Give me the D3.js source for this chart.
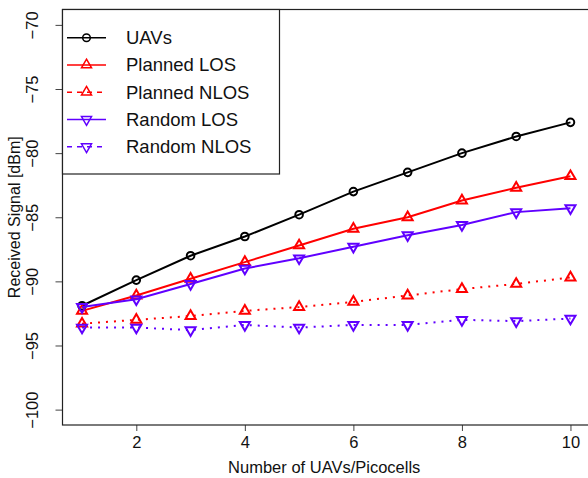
<!DOCTYPE html>
<html>
<head>
<meta charset="utf-8">
<script src="https://cdn.jsdelivr.net/npm/d3@7"></script>
<style>
  body { margin: 0; background: #fff; }
  svg { display: block; font-family: "Liberation Sans", Arial, Helvetica, sans-serif; }
</style>
</head>
<body>
<svg width="588" height="478"></svg>
<script>
const nodes = [1, 2, 3, 4, 5, 6, 7, 8, 9, 10];
const uavs        = [-91.9, -89.9, -88.0, -86.5, -84.8, -83.0, -81.5, -80.0, -78.7, -77.6];
const plannedLOS  = [-92.3, -91.1, -89.8, -88.5, -87.2, -85.9, -85.0, -83.7, -82.7, -81.8];
const plannedNLOS = [-93.3, -93.0, -92.7, -92.3, -92.0, -91.6, -91.1, -90.6, -90.2, -89.7];
const randomLOS   = [-92.0, -91.4, -90.2, -89.0, -88.2, -87.3, -86.4, -85.6, -84.6, -84.3];
const randomNLOS  = [-93.6, -93.6, -93.8, -93.4, -93.6, -93.4, -93.4, -93.0, -93.1, -92.9];
const xTicks = [2, 4, 6, 8, 10];
const yTicks = [-100, -95, -90, -85, -80, -75, -70];

const series = [
  { name: 'UAVs',         values: uavs,        color: '#000000', marker: 'circle', dotted: false },
  { name: 'Planned LOS',  values: plannedLOS,  color: '#ff0000', marker: 'up',     dotted: false },
  { name: 'Planned NLOS', values: plannedNLOS, color: '#ff0000', marker: 'up',     dotted: true },
  { name: 'Random LOS',   values: randomLOS,   color: '#6000ff', marker: 'down',   dotted: false },
  { name: 'Random NLOS',  values: randomNLOS,  color: '#6000ff', marker: 'down',   dotted: true }
];

const margin = { top: 9.5, left: 62.5 };
const plotRight = 590;
const plotBottom = 425;

const svg = d3.select('svg');

// R style 4% padding on both axes
const x = d3.scaleLinear().domain([0.64, 10.36]).range([margin.left, plotRight]);
const y = d3.scaleLinear().domain([-101.2, -68.8]).range([plotBottom, margin.top]);

// axes
const xAxis = svg.append('g')
  .attr('transform', `translate(0,${plotBottom})`)
  .call(d3.axisBottom(x).tickValues(xTicks).tickSize(6).tickPadding(5).tickFormat(d3.format('d')));
xAxis.select('.domain').remove();
xAxis.selectAll('line').attr('stroke', '#444');
xAxis.selectAll('text').attr('font-size', 16.5).attr('fill', '#111').attr('font-family', null);

const yAxis = svg.append('g')
  .attr('transform', `translate(${margin.left},0)`)
  .call(d3.axisLeft(y).tickValues(yTicks).tickSize(7).tickFormat(d3.format('d')));
yAxis.select('.domain').remove();
yAxis.selectAll('line').attr('stroke', '#444');
yAxis.selectAll('text')
  .attr('font-size', 16.5).attr('fill', '#111').attr('font-family', null)
  .attr('x', null).attr('dy', null)
  .attr('text-anchor', 'middle')
  .attr('transform', 'translate(-19,0) rotate(-90) translate(0,-6)');

// plot box
svg.append('rect')
  .attr('x', margin.left).attr('y', margin.top)
  .attr('width', plotRight - margin.left).attr('height', plotBottom - margin.top)
  .attr('fill', 'none').attr('stroke', '#222').attr('stroke-width', 1.2);

// axis titles
svg.append('text')
  .attr('x', (margin.left + plotRight) / 2 - 2).attr('y', 473)
  .attr('text-anchor', 'middle').attr('font-size', 16.5).attr('fill', '#111')
  .text('Number of UAVs/Picocells');

svg.append('text')
  .attr('transform', `translate(20,${(margin.top + plotBottom) / 2}) rotate(-90)`)
  .attr('text-anchor', 'middle').attr('font-size', 16).attr('fill', '#111')
  .text('Received Signal [dBm]');

// triangle like R pch 2 / 6, r = circumradius
function triangle(cx, cy, r, down) {
  const h = r * Math.sqrt(3) / 2;
  const s = down ? -1 : 1;
  return `M${cx},${cy - s * r}L${cx + h},${cy + s * r / 2}L${cx - h},${cy + s * r / 2}Z`;
}

function drawMarker(g, marker, cx, cy, color, sw) {
  if (marker === 'circle') {
    g.append('circle').attr('cx', cx).attr('cy', cy).attr('r', 3.8)
      .attr('fill', 'none').attr('stroke', color).attr('stroke-width', sw);
  } else {
    g.append('path').attr('d', triangle(cx, cy, 5.8, marker === 'down'))
      .attr('fill', 'none').attr('stroke', color).attr('stroke-width', sw);
  }
}

const line = d3.line().x((d, i) => x(nodes[i])).y(d => y(d));

const plot = svg.append('g');
series.forEach(s => {
  plot.append('path')
    .datum(s.values)
    .attr('d', line)
    .attr('fill', 'none')
    .attr('stroke', s.color)
    .attr('stroke-width', 2)
    .attr('stroke-dasharray', s.dotted ? '2,6' : null);
  s.values.forEach((v, i) => drawMarker(plot, s.marker, x(nodes[i]), y(v), s.color, 2));
});

// legend
const legend = svg.append('g');
legend.append('rect')
  .attr('x', margin.left).attr('y', margin.top)
  .attr('width', 279.5 - margin.left).attr('height', 174 - margin.top)
  .attr('fill', '#fff').attr('stroke', '#222').attr('stroke-width', 1.2);

series.forEach((s, i) => {
  const ly = 37.7 + i * 27.25;
  legend.append('line')
    .attr('x1', 67).attr('x2', 106).attr('y1', ly).attr('y2', ly)
    .attr('stroke', s.color).attr('stroke-width', 1.5)
    .attr('stroke-dasharray', s.dotted ? '5,5' : null);
  drawMarker(legend, s.marker, 86.5, ly, s.color, 1.5);
  legend.append('text')
    .attr('x', 126).attr('y', ly).attr('dy', '0.35em')
    .attr('font-size', 18.5).attr('fill', '#111')
    .text(s.name);
});
</script>
</body>
</html>
